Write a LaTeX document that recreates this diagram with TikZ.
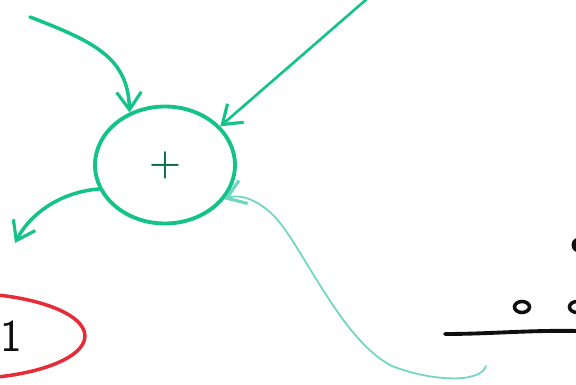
\documentclass[tikz,border=0pt]{standalone}
\usepackage{xcolor}
\usepackage{tikz}
\usetikzlibrary{arrows.meta,shapes.geometric}
\definecolor{inkGreen}{RGB}{20, 195, 135}
\definecolor{inkTeal} {RGB}{110, 215, 190}
\definecolor{inkRed}  {RGB}{230, 45,  55}
\definecolor{inkBlack}{RGB}{15,  15,  15}

\tikzset{
  flow/.style={-{Straight Barb[length=10pt,width=14pt,line width=1.8pt]},
               line width=2pt,inkGreen,line cap=round},
  sumblob/.style={ellipse,draw=inkGreen,line width=2.2pt,
                  minimum width=2.8cm,minimum height=2.34cm},
  ring/.style={ellipse,draw=inkBlack,line width=2pt,inner sep=0pt,
               minimum width=0.3cm,minimum height=0.22cm}
}

\begin{document}
\begin{tikzpicture}[x=0.02cm,y=-0.02cm]

    \useasboundingbox (0,0) rectangle (576,385);
    \clip (0,0) rectangle (576,385);

    % ── SOMADOR ───────────────────────────────────────────
    \node[sumblob,font=\huge\boldmath,text=inkGreen!55!black] (sum) at (165,165) {$+$};

    % ── ENTRADAS ──────────────────────────────────────────
    \coordinate (inA) at (30,17);
    \coordinate (inB) at (368,-2);
    \coordinate (inC) at (486,366);

    \draw[flow] (inA) .. controls (95,42) and (128,58) .. (sum.124);
    \draw[flow,line width=1.5pt] (inB) -- (sum.35);
    \draw[flow,inkTeal,line width=1pt]
      (inC) .. controls (480,384) and (430,381) .. (392,366)
            .. controls (340,340) and (300,240) .. (272,214)
            .. controls (255,198) and (238,194) .. (sum.-30);

    % ── SAIDA ─────────────────────────────────────────────
    \coordinate (out) at (15,243);
    \draw[flow] (sum.200) .. controls (60,192) and (30,214) .. (out);

    % ── BLOCO VERMELHO ────────────────────────────────────
    \node[ellipse,draw=inkRed,line width=2pt,
          minimum width=5cm,minimum height=1.72cm] (lens) at (-40,336) {};
    \node[font=\fontsize{26}{30}\selectfont\sffamily,inkBlack] (one) at (11,336) {1};

    % ── CANTO DIREITO ─────────────────────────────────────
    \coordinate (lineL) at (445,334);
    \coordinate (lineR) at (578,331);
    \draw[inkBlack,line width=2.2pt,line cap=round]
      (lineL) .. controls (490,334) and (530,330) .. (lineR);

    \node[ring] (ringA) at (522,307) {};
    \node[ring] (ringB) at (577,307) {};
    \node[circle,fill=inkBlack,inner sep=0pt,minimum size=0.3cm] (dot) at (579,245) {};

\end{tikzpicture}
\end{document}
